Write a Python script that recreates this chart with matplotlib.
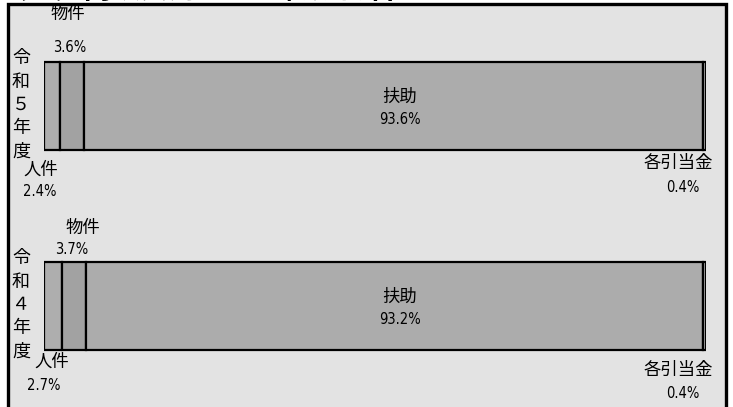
import matplotlib
matplotlib.use("Agg")
import matplotlib.pyplot as plt
from matplotlib.patches import Rectangle
import numpy as np

plt.rcParams['font.family'] = ['Noto Sans CJK JP', 'DejaVu Sans']

# ---- data ----
years = ["令和５年度", "令和４年度"]
categories = ["人件", "物件", "扶助", "各引当金"]
shares_r5 = [2.4, 3.6, 93.6, 0.4]
shares_r4 = [2.7, 3.7, 93.2, 0.4]
seg_colors = ["#aeaeae", "#a2a2a2", "#acacac", "#b8b8b8"]
title = "（２）内訳費用の主な構成割合"

W, H = 733, 407
fig = plt.figure(figsize=(W / 100, H / 100), dpi=100)
fig.patch.set_facecolor("white")

def fx(px):
    return px / W

def fy(py):
    return 1 - py / H

# panel background
panel = Rectangle((fx(8), fy(412)), fx(726) - fx(8), fy(4) - fy(412),
                  transform=fig.transFigure, facecolor="#e3e3e3",
                  edgecolor="black", linewidth=2.4, zorder=-5)
fig.patches.append(panel)

# clipped title at top
fig.text(fx(-2), fy(-10), title, fontsize=20.5, fontweight="bold",
         ha="left", va="center", color="black", zorder=-6)

# bar axes: x 0..100 maps to pixels 44..706
ax = fig.add_axes([fx(44), 0, fx(706) - fx(44), 1])
ax.set_zorder(2)
ax.set_xlim(0, 100)
ax.set_ylim((H - 106) / 200, -106 / 200)
ax.axis("off")
ax.patch.set_alpha(0)

series = [shares_r5, shares_r4]
for i, vals in enumerate(series):
    left = 0.0
    for v, c in zip(vals, seg_colors):
        ax.barh(i, v, left=left, height=0.44, color=c, edgecolor="black",
                linewidth=1.6)
        left += v

lab_fs = 12.5
num_fs = 10.5

def label(xp, yp, txt, fs, num=False, ha="center"):
    kw = {}
    if num:
        kw["family"] = "DejaVu Sans"
        kw["fontstretch"] = "condensed"
    fig.text(fx(xp), fy(yp), txt, fontsize=fs, ha=ha, va="center", zorder=5, **kw)

# year labels (vertical)
for i, yname in enumerate(years):
    base = 58 + 200 * i
    for k, ch in enumerate(yname):
        label(21, base + k * 23.5, ch, 13)

# top bar labels
label(68, 14, "物件", lab_fs)
label(70, 47, f"{shares_r5[1]}%", num_fs, True)
label(41, 170, "人件", lab_fs)
label(40, 192, f"{shares_r5[0]}%", num_fs, True)
label(400, 97, "扶助", lab_fs)
label(400, 120, f"{shares_r5[2]}%", num_fs, True)
label(678, 163, "各引当金", lab_fs)
label(683, 187, f"{shares_r5[3]}%", num_fs, True)

# bottom bar labels
label(83, 228, "物件", lab_fs)
label(72, 250, f"{shares_r4[1]}%", num_fs, True)
label(52, 362, "人件", lab_fs)
label(44, 386, f"{shares_r4[0]}%", num_fs, True)
label(400, 297, "扶助", lab_fs)
label(400, 320, f"{shares_r4[2]}%", num_fs, True)
label(678, 370, "各引当金", lab_fs)
label(683, 393, f"{shares_r4[3]}%", num_fs, True)

fig.savefig("out.png", dpi=100)
